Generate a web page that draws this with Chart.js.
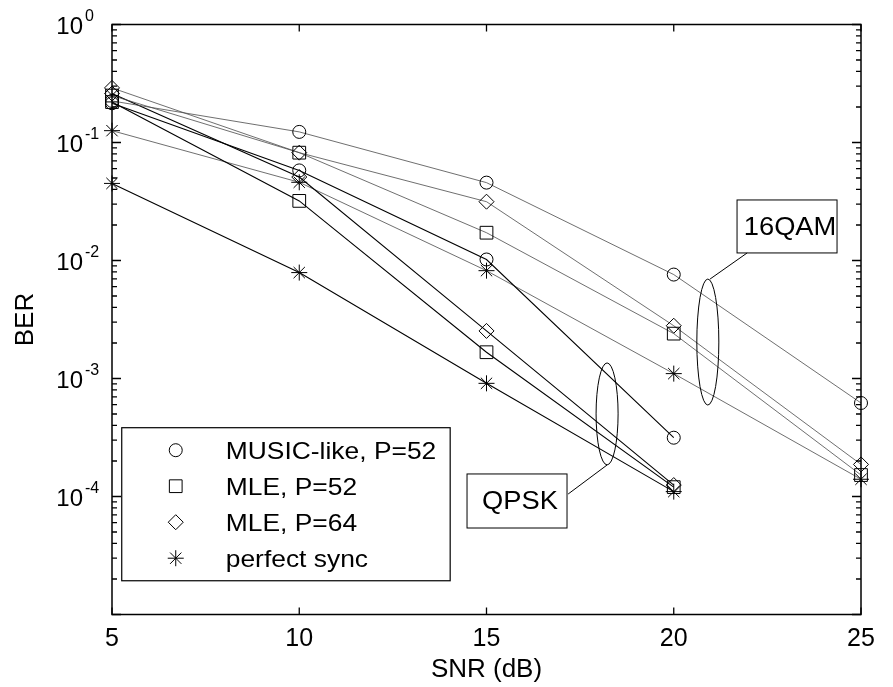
<!DOCTYPE html>
<html><head><meta charset="utf-8">
<script src="https://cdn.jsdelivr.net/npm/chart.js@4"></script>
<style>html,body{margin:0;padding:0;background:#fff;}canvas{display:block;}</style>
</head><body>
<canvas id="c" width="893" height="687"></canvas>
<script>
// ---- data ----
const snrQPSK = [5, 10, 15, 20];
const snr16QAM = [5, 10, 15, 20, 25];
const seriesNames = ['MUSIC-like, P=52', 'MLE, P=52', 'MLE, P=64', 'perfect sync'];
const musicQPSK   = [0.215, 0.058, 0.0102, 0.000315];
const music16QAM  = [0.225, 0.123, 0.0457, 0.0076, 0.00062];
const mle52QPSK   = [0.22, 0.032, 0.00167, 0.000120];
const mle52_16QAM = [0.25, 0.082, 0.0172, 0.0024, 0.000152];
const mle64QPSK   = [0.26, 0.051, 0.00253, 0.000125];
const mle64_16QAM = [0.29, 0.082, 0.0315, 0.0028, 0.000187];
const perfQPSK    = [0.045, 0.0079, 0.00091, 0.000110];
const perf16QAM   = [0.126, 0.046, 0.0082, 0.0011, 0.000140];
const xTickValues = [5, 10, 15, 20, 25];
const yDecades = [0, -1, -2, -3, -4];
const annotationLabels = ['QPSK', '16QAM'];

// ---- styles ----
const markers = ['circle', 'rect', 'rectRot', 'star'];
const markerRadius = {circle: 6.5, rect: 9, rectRot: 7.5, star: 8};
const FONT = '"Liberation Sans", Arial, sans-serif';

function mk(xs, ys, mi, qpsk) {
  return {
    label: seriesNames[mi] + (qpsk ? ' QPSK' : ' 16QAM'),
    data: xs.map((x, i) => ({x: x, y: ys[i]})),
    borderColor: qpsk ? '#000' : '#4a4a4a',
    borderWidth: qpsk ? 1.1 : 0.8,
    pointStyle: markers[mi],
    pointRadius: markerRadius[markers[mi]],
    pointHoverRadius: markerRadius[markers[mi]],
    pointBorderColor: '#000',
    pointBackgroundColor: 'rgba(0,0,0,0)',
    pointBorderWidth: 1,
    fill: false, tension: 0, clip: false
  };
}
const datasets = [
  mk(snr16QAM, music16QAM, 0, false), mk(snrQPSK, musicQPSK, 0, true),
  mk(snr16QAM, mle52_16QAM, 1, false), mk(snrQPSK, mle52QPSK, 1, true),
  mk(snr16QAM, mle64_16QAM, 2, false), mk(snrQPSK, mle64QPSK, 2, true),
  mk(snr16QAM, perf16QAM, 3, false), mk(snrQPSK, perfQPSK, 3, true)
];

// annotation geometry in data units (x in dB, y as log10 BER)
const ellipses = [
  {cx: 18.22, cy: -3.30, rx: 0.294, ry: 0.432},
  {cx: 20.91, cy: -2.691, rx: 0.294, ry: 0.534}
];
const boxes = [
  {x0: 14.48, x1: 17.15, y0: -3.809, y1: -4.267, lx0: 17.18, ly0: -3.979, lx1: 18.22, ly1: -3.733},
  {x0: 21.69, x1: 24.36, y0: -1.487, y1: -1.936, lx0: 21.96, ly0: -1.936, lx1: 20.97, ly1: -2.157}
];
const legendBox = {x0: 5.26, x1: 14.03, y0: -3.417, y1: -4.714};

function drawMarker(ctx, style, r, x, y) {
  if (Chart.helpers && Chart.helpers.drawPoint) {
    ctx.fillStyle = 'rgba(0,0,0,0)';
    Chart.helpers.drawPoint(ctx, {pointStyle: style, radius: r, rotation: 0, borderWidth: 1}, x, y);
  }
}

const decor = {
  id: 'decor',
  afterDraw(chart) {
    const ctx = chart.ctx, a = chart.chartArea;
    const xs = chart.scales.x, ys = chart.scales.y;
    const px = v => xs.getPixelForValue(v);
    const py = lv => ys.getPixelForValue(Math.pow(10, lv));
    ctx.save();
    ctx.strokeStyle = '#000';
    ctx.fillStyle = '#000';
    // axis box
    ctx.lineWidth = 1.5;
    ctx.strokeRect(a.left, a.top, a.right - a.left, a.bottom - a.top);
    // y ticks (log) both sides
    ctx.lineWidth = 1.3;
    ctx.beginPath();
    for (let d = -5; d <= 0; d++) {
      const y = py(d);
      ctx.moveTo(a.left, y); ctx.lineTo(a.left + 9, y);
      ctx.moveTo(a.right, y); ctx.lineTo(a.right - 9, y);
      if (d < 0) {
        for (let m = 2; m <= 9; m++) {
          const yy = ys.getPixelForValue(m * Math.pow(10, d));
          ctx.moveTo(a.left, yy); ctx.lineTo(a.left + 5, yy);
          ctx.moveTo(a.right, yy); ctx.lineTo(a.right - 5, yy);
        }
      }
    }
    // x ticks top & bottom
    xTickValues.forEach(v => {
      const x = px(v);
      ctx.moveTo(x, a.bottom); ctx.lineTo(x, a.bottom - 7);
      ctx.moveTo(x, a.top); ctx.lineTo(x, a.top + 7);
    });
    ctx.stroke();
    // y tick labels with superscripts
    ctx.textBaseline = 'middle';
    yDecades.forEach(d => {
      const y = py(d);
      ctx.font = '24px ' + FONT;
      ctx.textAlign = 'right';
      ctx.fillText('10', a.left - 29, y + 3);
      ctx.font = '16px ' + FONT;
      ctx.textAlign = 'left';
      ctx.fillText(String(d), a.left - 27, y - 8);
    });
    // ellipses
    ctx.lineWidth = 1;
    ellipses.forEach(e => {
      const cx = px(e.cx), cy = py(e.cy);
      const rx = Math.abs(px(e.cx + e.rx) - cx), ry = Math.abs(py(e.cy + e.ry) - cy);
      ctx.beginPath();
      ctx.ellipse(cx, cy, rx, ry, 0, 0, Math.PI * 2);
      ctx.stroke();
    });
    // annotation boxes
    boxes.forEach((b, i) => {
      const x0 = px(b.x0), x1 = px(b.x1), y0 = py(b.y0), y1 = py(b.y1);
      ctx.fillStyle = '#fff';
      ctx.fillRect(x0, y0, x1 - x0, y1 - y0);
      ctx.strokeStyle = '#000';
      ctx.lineWidth = 1;
      ctx.strokeRect(x0, y0, x1 - x0, y1 - y0);
      ctx.beginPath();
      ctx.moveTo(px(b.lx0), py(b.ly0)); ctx.lineTo(px(b.lx1), py(b.ly1));
      ctx.stroke();
      ctx.fillStyle = '#000';
      ctx.font = '26px ' + FONT;
      ctx.textAlign = 'center';
      ctx.textBaseline = 'middle';
      ctx.save();
      ctx.translate((x0 + x1) / 2 + 3, (y0 + y1) / 2 + 1);
      ctx.scale(1.05, 1);
      ctx.fillText(annotationLabels[i], 0, 0);
      ctx.restore();
    });
    // legend
    const lx0 = px(legendBox.x0), lx1 = px(legendBox.x1), ly0 = py(legendBox.y0), ly1 = py(legendBox.y1);
    ctx.fillStyle = '#fff';
    ctx.fillRect(lx0, ly0, lx1 - lx0, ly1 - ly0);
    ctx.lineWidth = 1.2;
    ctx.strokeStyle = '#000';
    ctx.strokeRect(lx0, ly0, lx1 - lx0, ly1 - ly0);
    seriesNames.forEach((name, i) => {
      const ry = ly0 + 22.5 + i * 36;
      ctx.lineWidth = 1;
      ctx.strokeStyle = '#000';
      drawMarker(ctx, markers[i], markerRadius[markers[i]], lx0 + 54, ry);
      ctx.fillStyle = '#000';
      ctx.font = '24px ' + FONT;
      ctx.textAlign = 'left';
      ctx.textBaseline = 'middle';
      ctx.save();
      ctx.translate(lx0 + 104, ry + 2);
      ctx.scale(1.1, 1);
      ctx.fillText(name, 0, 0);
      ctx.restore();
    });
    ctx.restore();
  }
};

new Chart(document.getElementById('c'), {
  type: 'line',
  data: {datasets: datasets},
  options: {
    responsive: false, animation: false, devicePixelRatio: 1,
    layout: {padding: {top: 24.5, right: 32, left: 0, bottom: 0}},
    plugins: {legend: {display: false}, tooltip: {enabled: false}},
    scales: {
      x: {
        type: 'linear', min: 5, max: 25,
        afterBuildTicks: s => { s.ticks = xTickValues.map(v => ({value: v})); },
        afterFit: s => { s.height = 72.5; },
        grid: {display: false, drawTicks: false}, border: {display: false},
        ticks: {color: '#000', font: {family: FONT, size: 25}, padding: 10, maxRotation: 0},
        title: {display: true, text: 'SNR (dB)', color: '#000', font: {family: FONT, size: 26}, padding: {top: 2, bottom: 2}}
      },
      y: {
        type: 'logarithmic', min: 1e-5, max: 1,
        afterFit: s => { s.width = 112; },
        grid: {display: false, drawTicks: false}, border: {display: false},
        ticks: {display: false},
        title: {display: true, text: 'BER', color: '#000', font: {family: FONT, size: 26}, padding: {top: 10, bottom: 0}}
      }
    }
  },
  plugins: [decor]
});
</script>
</body></html>
